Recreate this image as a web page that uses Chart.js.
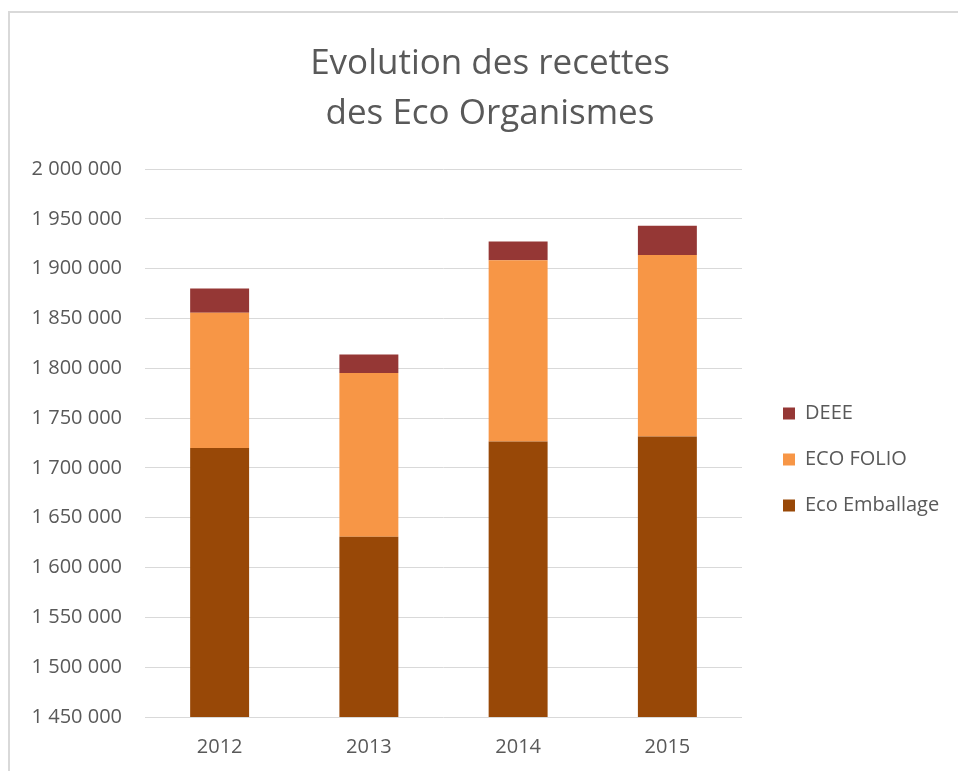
<!DOCTYPE html>
<html>
<head>
<meta charset="utf-8">
<script src="https://cdn.jsdelivr.net/npm/chart.js@4/dist/chart.umd.min.js"></script>
<style>
  html, body { margin: 0; padding: 0; background: #fff; }
  #frame { position: absolute; left: 8px; top: 11px; width: 960px; height: 770px;
           border-left: 2px solid #d9d9d9; border-top: 2px solid #d9d9d9; }
  #wrap { position: absolute; left: 0; top: 0; width: 958px; height: 771px; }
</style>
</head>
<body>
<div id="frame"></div>
<div id="wrap"><canvas id="graphique"></canvas></div>
<script>
// Données
const annees = ['2012', '2013', '2014', '2015'];
const ecoEmballage = [1720000, 1631000, 1726500, 1731500];
const ecoFolio = [135700, 164300, 181800, 182200];
const deee = [24300, 18400, 19000, 29300];

const couleurTexte = '#595959';
const police = '"Open Sans", Lato, sans-serif';

// Format "1 950 000"
function formatNombre(v) {
    return v.toString().replace(/\B(?=(\d{3})+(?!\d))/g, ' ');
}

// Largeur fixe de la légende + décalage (position comme dans Excel)
const placementLegende = {
    id: 'placementLegende',
    afterInit(chart) {
        const legende = chart.legend;
        const fitOrig = legende.fit;
        legende.fit = function () {
            fitOrig.call(this);
            this.width = 216;
        };
    },
    afterLayout(chart) {
        const legende = chart.legend;
        legende.left += 15;
        legende.right += 15;
        legende.top += 74;
        legende.bottom += 74;
    }
};

const ctx = document.getElementById('graphique').getContext('2d');
new Chart(ctx, {
    type: 'bar',
    data: {
        labels: annees,
        datasets: [
            { label: 'Eco Emballage', data: ecoEmballage, backgroundColor: '#984807' },
            { label: 'ECO FOLIO', data: ecoFolio, backgroundColor: '#f79646' },
            { label: 'DEEE', data: deee, backgroundColor: '#953735' }
        ]
    },
    options: {
        responsive: true,
        maintainAspectRatio: false,
        animation: false,
        barPercentage: 0.79,
        categoryPercentage: 0.5,
        layout: { padding: { left: 22, right: 0, top: 0, bottom: 0 } },
        plugins: {
            title: {
                display: true,
                text: ['Evolution des recettes', 'des Eco Organismes'],
                color: couleurTexte,
                font: { family: police, size: 35, weight: 'normal', lineHeight: 50 / 35 },
                padding: { top: 39, bottom: 30 }
            },
            legend: {
                position: 'right',
                reverse: true,
                labels: {
                    color: couleurTexte,
                    font: { family: police, size: 20 },
                    boxWidth: 12,
                    boxHeight: 12,
                    padding: 26
                }
            },
            tooltip: { enabled: false }
        },
        scales: {
            x: {
                stacked: true,
                grid: { display: false, drawTicks: false },
                border: { display: false },
                ticks: { color: couleurTexte, font: { family: police, size: 20 }, padding: 18 },
                afterFit(scale) { scale.height = 54; }
            },
            y: {
                stacked: true,
                min: 1450000,
                max: 2000000,
                grid: { color: '#d9d9d9', lineWidth: 1, drawTicks: false },
                border: { display: false },
                ticks: {
                    stepSize: 50000,
                    color: couleurTexte,
                    font: { family: police, size: 20 },
                    padding: 23,
                    callback: (v) => formatNombre(v)
                },
                afterFit(scale) { scale.width = 123; }
            }
        }
    },
    plugins: [placementLegende]
});
</script>
</body>
</html>
